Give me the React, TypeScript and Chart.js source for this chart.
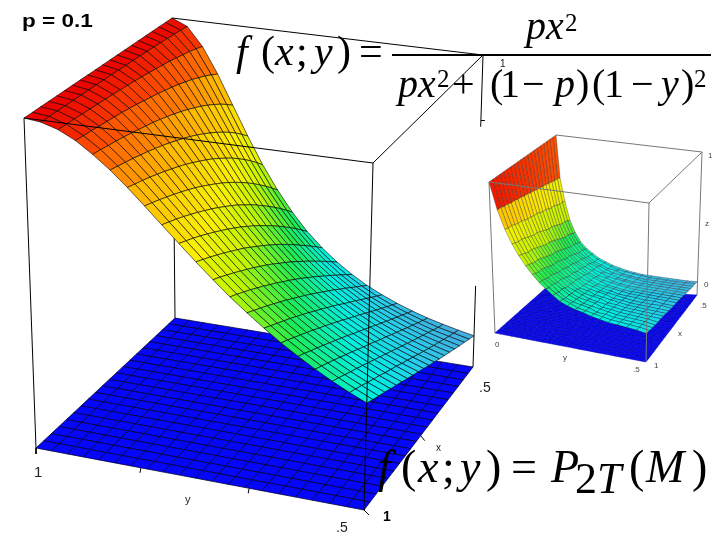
import React, { useEffect, useRef } from "react";
import { Chart, registerables } from "chart.js";

Chart.register(...registerables);

// Large surface, height read per row (rows run y = 1 → 0.5, columns x = 0.5 → 1)
const mainRow00 = [1,1,1,1,1,1,1,1,1,1,1,1,1,1,1,1,1,1,1,1,1];
const mainRow01 = [.978,.980,.982,.983,.985,.986,.987,.988,.989,.989,.990,.991,.991,.992,.992,.993,.993,.993,.994,.994,.994];
const mainRow02 = [.917,.925,.931,.936,.941,.946,.949,.953,.956,.959,.962,.964,.966,.968,.970,.971,.973,.974,.976,.977,.978];
const mainRow03 = [.832,.845,.857,.867,.877,.885,.893,.900,.906,.912,.917,.922,.927,.931,.935,.938,.941,.944,.947,.949,.952];
const mainRow04 = [.735,.754,.771,.786,.800,.813,.824,.835,.845,.854,.862,.870,.877,.883,.889,.895,.900,.905,.909,.914,.917];
const mainRow05 = [.640,.662,.683,.702,.719,.735,.750,.764,.777,.789,.800,.810,.820,.829,.837,.845,.852,.859,.865,.871,.877];
const mainRow06 = [.552,.576,.599,.620,.640,.659,.676,.692,.708,.722,.735,.748,.760,.771,.781,.791,.800,.809,.817,.824,.832];
const mainRow07 = [.476,.500,.523,.545,.566,.586,.605,.623,.640,.656,.671,.685,.699,.712,.724,.735,.746,.756,.766,.775,.784];
const mainRow08 = [.410,.434,.457,.479,.500,.520,.540,.559,.576,.594,.610,.625,.640,.654,.667,.680,.692,.704,.715,.725,.735];
const mainRow09 = [.354,.377,.399,.421,.441,.462,.481,.500,.518,.536,.552,.569,.584,.599,.613,.627,.640,.653,.665,.676,.687];
const mainRow10 = [.308,.329,.350,.370,.390,.410,.429,.448,.466,.483,.500,.516,.532,.548,.562,.576,.590,.603,.616,.628,.640];
const mainRow11 = [.269,.288,.308,.327,.346,.365,.383,.401,.419,.436,.452,.469,.485,.500,.515,.529,.543,.557,.570,.583,.595];
const mainRow12 = [.236,.254,.272,.290,.308,.325,.343,.360,.377,.394,.410,.426,.441,.457,.471,.486,.500,.514,.527,.540,.552];
const mainRow13 = [.208,.225,.241,.258,.275,.291,.308,.324,.340,.356,.372,.387,.402,.417,.432,.446,.460,.474,.487,.500,.513];
const mainRow14 = [.185,.200,.215,.231,.246,.262,.277,.292,.308,.323,.338,.353,.367,.382,.396,.410,.424,.437,.450,.463,.476];
const mainRow15 = [.165,.179,.193,.207,.221,.236,.250,.265,.279,.293,.308,.322,.336,.350,.363,.377,.390,.403,.416,.429,.441];
const mainRow16 = [.148,.161,.174,.187,.200,.213,.227,.240,.254,.267,.281,.294,.308,.321,.334,.347,.360,.373,.385,.398,.410];
const mainRow17 = [.133,.145,.157,.169,.181,.194,.206,.219,.232,.244,.257,.270,.282,.295,.308,.320,.333,.345,.357,.369,.381];
const mainRow18 = [.121,.131,.142,.154,.165,.177,.188,.200,.212,.224,.236,.248,.260,.272,.284,.296,.308,.319,.331,.343,.354];
const mainRow19 = [.110,.120,.130,.140,.151,.161,.172,.183,.194,.206,.217,.228,.240,.251,.262,.274,.285,.296,.308,.319,.330];
const mainRow20 = [.100,.109,.119,.128,.138,.148,.158,.168,.179,.189,.200,.211,.221,.232,.243,.254,.265,.276,.286,.297,.308];

// Small surface, height read per row (rows run y = 0 → 0.5, columns x = 0.5 → 1)
const insetRow00 = [1,1,1,1,1,1,1,1,1,1,1,1,1,1,1,1,1,1,1,1,1];
const insetRow01 = [.72,.73,.73,.74,.74,.75,.75,.76,.76,.77,.77,.78,.78,.79,.79,.80,.80,.81,.81,.82,.82];
const insetRow02 = [.57,.58,.58,.59,.60,.60,.61,.62,.62,.63,.64,.64,.65,.65,.66,.67,.67,.68,.69,.69,.70];
const insetRow03 = [.45,.46,.47,.47,.48,.49,.50,.51,.51,.52,.53,.54,.55,.55,.56,.57,.58,.59,.59,.60,.61];
const insetRow04 = [.37,.38,.39,.40,.40,.41,.42,.43,.44,.45,.46,.46,.47,.48,.49,.50,.51,.51,.52,.53,.54];
const insetRow05 = [.31,.32,.33,.34,.34,.35,.36,.37,.38,.39,.40,.40,.41,.42,.43,.44,.45,.45,.46,.47,.48];
const insetRow06 = [.27,.28,.29,.29,.30,.31,.32,.33,.33,.34,.35,.36,.37,.37,.38,.39,.40,.41,.41,.42,.43];
const insetRow07 = [.24,.25,.25,.26,.27,.28,.28,.29,.30,.31,.31,.32,.33,.33,.34,.35,.36,.36,.37,.38,.385];
const insetRow08 = [.21,.22,.22,.23,.24,.25,.25,.26,.27,.27,.28,.29,.29,.30,.31,.32,.32,.33,.34,.34,.35];
const insetRow09 = [.19,.20,.20,.21,.22,.22,.23,.23,.24,.25,.25,.26,.27,.27,.28,.28,.29,.30,.30,.31,.315];
const insetRow10 = [.17,.18,.18,.19,.19,.20,.20,.21,.22,.22,.23,.23,.24,.24,.25,.26,.26,.27,.27,.28,.285];
const insetRow11 = [.155,.16,.17,.17,.18,.18,.19,.19,.20,.20,.21,.22,.22,.23,.23,.24,.24,.25,.25,.26,.265];
const insetRow12 = [.14,.15,.15,.16,.16,.17,.17,.18,.18,.19,.195,.20,.21,.21,.22,.22,.23,.23,.24,.24,.25];
const insetRow13 = [.13,.14,.14,.15,.15,.16,.16,.17,.17,.18,.185,.19,.20,.20,.21,.21,.22,.22,.23,.23,.24];
const insetRow14 = [.12,.13,.13,.14,.14,.15,.15,.16,.16,.17,.17,.18,.18,.19,.19,.20,.20,.21,.21,.22,.225];
const insetRow15 = [.115,.12,.125,.13,.135,.14,.145,.15,.155,.16,.165,.17,.175,.18,.185,.19,.195,.20,.205,.21,.215];
const insetRow16 = [.11,.115,.12,.125,.13,.135,.14,.145,.15,.155,.16,.16,.165,.17,.175,.18,.185,.19,.195,.20,.205];
const insetRow17 = [.105,.11,.115,.12,.125,.13,.135,.14,.145,.15,.15,.155,.16,.165,.17,.175,.18,.185,.19,.195,.20];
const insetRow18 = [.10,.105,.11,.115,.12,.125,.13,.135,.14,.145,.15,.15,.155,.16,.165,.17,.175,.18,.185,.19,.195];
const insetRow19 = [.095,.10,.105,.11,.115,.12,.125,.13,.135,.14,.14,.15,.15,.155,.16,.165,.17,.175,.18,.185,.19];
const insetRow20 = [.093,.10,.10,.105,.11,.115,.12,.125,.13,.135,.135,.14,.145,.15,.155,.16,.16,.165,.17,.175,.18];

const mainRows = [mainRow00,mainRow01,mainRow02,mainRow03,mainRow04,mainRow05,mainRow06,mainRow07,mainRow08,mainRow09,mainRow10,mainRow11,mainRow12,mainRow13,mainRow14,mainRow15,mainRow16,mainRow17,mainRow18,mainRow19,mainRow20];
const insetRows = [insetRow00,insetRow01,insetRow02,insetRow03,insetRow04,insetRow05,insetRow06,insetRow07,insetRow08,insetRow09,insetRow10,insetRow11,insetRow12,insetRow13,insetRow14,insetRow15,insetRow16,insetRow17,insetRow18,insetRow19,insetRow20];

const mainStops = [0, .1, .2, .3, .42, .55, .65, .8, .92, 1];
const insetStops = [0, .08, .14, .2, .38, .5, .68, .78, .86, .93];
const colorValues = [[30,60,235],[70,170,225],[40,205,235],[0,240,225],[30,235,80],[195,245,0],[250,240,0],[255,185,0],[255,85,0],[235,0,0]];

type P = { x: number; y: number };
type Box = { d0: P; a0: P; c0: P; b0: P; d1: P; a1: P; c1: P; b1: P };

// Projected corners of the two plot boxes (0 = floor, 1 = top)
const mainBox: Box = {
  d0: { x: 175, y: 318 }, a0: { x: 36, y: 448 }, c0: { x: 473, y: 367 }, b0: { x: 364, y: 510 },
  d1: { x: 172, y: 18 }, a1: { x: 24, y: 118 }, c1: { x: 483, y: 55 }, b1: { x: 373, y: 163 },
};
const insetBox: Box = {
  d0: { x: 547, y: 287 }, a0: { x: 495, y: 333 }, c0: { x: 697, y: 295 }, b0: { x: 646, y: 362 },
  d1: { x: 556, y: 135 }, a1: { x: 489, y: 182 }, c1: { x: 702, y: 152 }, b1: { x: 649, y: 203 },
};

const lerp = (a: number, b: number, t: number) => a + (b - a) * t;
// square → quad perspective map
function squareMap(p0: P, p1: P, p2: P, p3: P, u: number, v: number): P {
  const dx1 = p1.x - p2.x, dx2 = p3.x - p2.x, sx = p0.x - p1.x + p2.x - p3.x;
  const dy1 = p1.y - p2.y, dy2 = p3.y - p2.y, sy = p0.y - p1.y + p2.y - p3.y;
  const den = dx1 * dy2 - dx2 * dy1;
  const g = (sx * dy2 - dx2 * sy) / den;
  const h = (dx1 * sy - sx * dy1) / den;
  const w = g * u + h * v + 1;
  return {
    x: ((p1.x - p0.x + g * p1.x) * u + (p3.x - p0.x + h * p3.x) * v + p0.x) / w,
    y: ((p1.y - p0.y + g * p1.y) * u + (p3.y - p0.y + h * p3.y) * v + p0.y) / w,
  };
}
function project(box: Box, u: number, v: number, w: number): P {
  const f = squareMap(box.d0, box.a0, box.b0, box.c0, u, v);
  const t = squareMap(box.d1, box.a1, box.b1, box.c1, u, v);
  return { x: lerp(f.x, t.x, w), y: lerp(f.y, t.y, w) };
}
function colorFor(z: number, stops: number[]) {
  let i = 0;
  while (i < stops.length - 2 && z > stops[i + 1]) i++;
  const t = Math.min(1, Math.max(0, (z - stops[i]) / (stops[i + 1] - stops[i])));
  const c = colorValues[i].map((v, n) => Math.round(lerp(v, colorValues[i + 1][n], t)));
  return `rgb(${c[0]},${c[1]},${c[2]})`;
}

function quad(box: Box, k: number, j: number, h: number[][] | null, fillColor: string | null, stroke: string, stops: number[]) {
  const n = 20;
  const z = (a: number, b: number) => (h ? h[a][b] : 0);
  const pts = [
    project(box, j / n, k / n, z(k, j)),
    project(box, (j + 1) / n, k / n, z(k, j + 1)),
    project(box, (j + 1) / n, (k + 1) / n, z(k + 1, j + 1)),
    project(box, j / n, (k + 1) / n, z(k + 1, j)),
  ];
  pts.push(pts[0]);
  const avg = (z(k, j) + z(k, j + 1) + z(k + 1, j + 1) + z(k + 1, j)) / 4;
  return {
    data: pts,
    showLine: true,
    fill: "shape",
    tension: 0,
    pointRadius: 0,
    borderWidth: 1,
    borderColor: stroke,
    backgroundColor: fillColor || colorFor(avg, stops),
  };
}
function mesh(box: Box, h: number[][] | null, fillColor: string | null, stroke: string, stops: number[]) {
  const out: any[] = [];
  for (let k = 0; k < 20; k++) for (let j = 0; j < 20; j++) out.push(quad(box, k, j, h, fillColor, stroke, stops));
  return out;
}
function edge(a: P, b: P, color: string, width = 1) {
  return { data: [a, b], showLine: true, fill: false, tension: 0, pointRadius: 0, borderWidth: width, borderColor: color };
}
const mid = (a: P, b: P, t: number) => ({ x: lerp(a.x, b.x, t), y: lerp(a.y, b.y, t) });
const tick = (a: P, b: P, t: number, dx: number, dy: number, color: string) => {
  const p = mid(a, b, t);
  return edge(p, { x: p.x + dx, y: p.y + dy }, color);
};

// text, style, size, left, baseline
type Run = [string, string, number, number, number];
const equationTop: Run[] = [
  ["f", "italic", 42, 236, 65], ["(", "", 42, 261, 65], ["x", "italic", 42, 275, 65], [";", "", 42, 296, 65],
  ["y", "italic", 42, 314, 65], [")", "", 42, 337, 65], ["=", "", 42, 359, 65],
  ["px", "italic", 40, 526, 39], ["2", "", 25, 565, 31],
  ["px", "italic", 40, 398, 97], ["2", "", 25, 437, 87], ["+", "", 40, 452, 97], ["(", "", 40, 490, 97],
  ["1", "", 40, 500, 97], ["−", "", 40, 522, 97], ["p", "italic", 40, 555, 97], [")", "", 40, 576, 97],
  ["(", "", 40, 592, 97], ["1", "", 40, 604, 97], ["−", "", 40, 631, 97], ["y", "italic", 40, 661, 97],
  [")", "", 40, 681, 97], ["2", "", 25, 694, 87],
];
const equationBottom: Run[] = [
  ["f", "italic", 46, 378, 482], ["(", "", 46, 401, 482], ["x", "italic", 46, 418, 482], [";", "", 46, 442, 482],
  ["y", "italic", 46, 460, 482], [")", "", 46, 486, 482], ["=", "", 46, 511, 482], ["P", "italic", 46, 551, 482],
  ["2", "", 44, 575, 493], ["T", "italic", 44, 597, 493], ["(", "", 46, 629, 482], ["M", "italic", 46, 646, 482],
  [")", "", 46, 692, 482],
];
const plainLabels: [string, number, number, string, string][] = [
  ["1", 34, 477, '15px "Liberation Sans"', "#222"],
  ["y", 185, 503, '11px "Liberation Sans"', "#222"],
  [".5", 336, 532, '14px "Liberation Sans"', "#222"],
  ["1", 383, 521, 'bold 14px "Liberation Sans"', "#000"],
  [".5", 479, 392, '14px "Liberation Sans"', "#222"],
  ["x", 436, 451, '10px "Liberation Sans"', "#222"],
  ["1", 500, 67, '10px "Liberation Sans"', "#222"],
  ["0", 495, 347, '8px "Liberation Sans"', "#444"],
  ["y", 563, 360, '8px "Liberation Sans"', "#444"],
  [".5", 633, 372, '8px "Liberation Sans"', "#444"],
  ["1", 654, 368, '8px "Liberation Sans"', "#444"],
  ["x", 678, 336, '8px "Liberation Sans"', "#444"],
  [".5", 700, 308, '8px "Liberation Sans"', "#444"],
  ["0", 704, 287, '8px "Liberation Sans"', "#444"],
  ["z", 705, 226, '8px "Liberation Sans"', "#444"],
  ["1", 708, 158, '8px "Liberation Sans"', "#444"],
];
const caption = "p = 0.1";

const textPlugin = {
  id: "chartText",
  afterDatasetsDraw(chart: any) {
    const ctx = chart.ctx as CanvasRenderingContext2D;
    ctx.save();
    ctx.textBaseline = "alphabetic";
    ctx.fillStyle = "#000";
    for (const [text, style, size, x, y] of [...equationTop, ...equationBottom]) {
      ctx.font = `${style} ${size}px "Liberation Serif"`;
      ctx.fillText(text, x, y);
    }
    ctx.fillRect(392, 54, 319, 2);
    ctx.save();
    ctx.translate(22, 27);
    ctx.scale(1.25, 1);
    ctx.font = 'bold 18px "Liberation Sans"';
    ctx.fillText(caption, 0, 0);
    ctx.restore();
    for (const [t, x, y, font, color] of plainLabels) {
      ctx.font = font;
      ctx.fillStyle = color;
      ctx.fillText(t, x, y);
    }
    ctx.restore();
  },
};

export default function App() {
  const ref = useRef<HTMLCanvasElement>(null);
  useEffect(() => {
    const m = mainBox;
    const s = insetBox;
    const ink = "#000";
    const gray = "#777";
    const ordered: any[] = [
      edge(m.d1, m.d0, ink),
      edge(m.d1, m.c1, ink),
      edge(mid(m.c1, m.c0, 0), mid(m.c1, m.c0, 0.23), ink),
      edge(mid(m.c1, m.c0, 0.74), m.c0, ink),
      tick(m.c1, m.c0, 0.21, 4, 0, ink),
      edge(m.a1, m.a0, ink),
      tick(m.a0, m.b0, 0, 0, 6, ink),
      tick(m.a0, m.b0, 0.32, -1, 5, ink),
      tick(m.a0, m.b0, 0.65, -1, 5, ink),
      tick(m.b0, m.b0, 0, 5, 5, ink),
      tick(m.b0, m.c0, 0.52, 4, 5, ink),
      ...mesh(m, null, "rgb(6,6,250)", "rgba(0,0,50,0.75)", mainStops),
      ...mesh(m, mainRows, null, "rgba(0,0,0,0.6)", mainStops),
      edge(m.a1, m.b1, ink),
      edge(m.b1, m.c1, ink),
      edge(m.b1, m.b0, ink),
      edge(s.d1, s.c1, gray),
      edge(s.a1, s.a0, gray),
      edge(s.c1, s.c0, gray),
      ...mesh(s, null, "rgb(12,12,235)", "rgba(0,0,170,0.5)", insetStops),
      ...mesh(s, insetRows, null, "rgba(40,40,40,0.35)", insetStops),
      edge(s.a1, s.b1, gray),
      edge(s.b1, s.c1, gray),
      edge(s.b1, s.b0, gray),
    ];
    const chart = new Chart(ref.current as HTMLCanvasElement, {
      type: "scatter",
      data: { datasets: ordered.reverse() },
      options: {
        animation: false,
        responsive: false,
        parsing: false,
        normalized: true,
        layout: { padding: 0 },
        plugins: { legend: { display: false }, tooltip: { enabled: false }, title: { display: false } },
        scales: {
          x: { type: "linear", min: 0, max: 720, display: false },
          y: { type: "linear", min: 0, max: 540, reverse: true, display: false },
        },
      },
      plugins: [textPlugin],
    } as any);
    return () => chart.destroy();
  }, []);
  return (
    <div style={{ position: "fixed", left: 0, top: 0, width: 720, height: 540, background: "#fff" }}>
      <canvas ref={ref} width={720} height={540} style={{ display: "block" }} />
    </div>
  );
}
